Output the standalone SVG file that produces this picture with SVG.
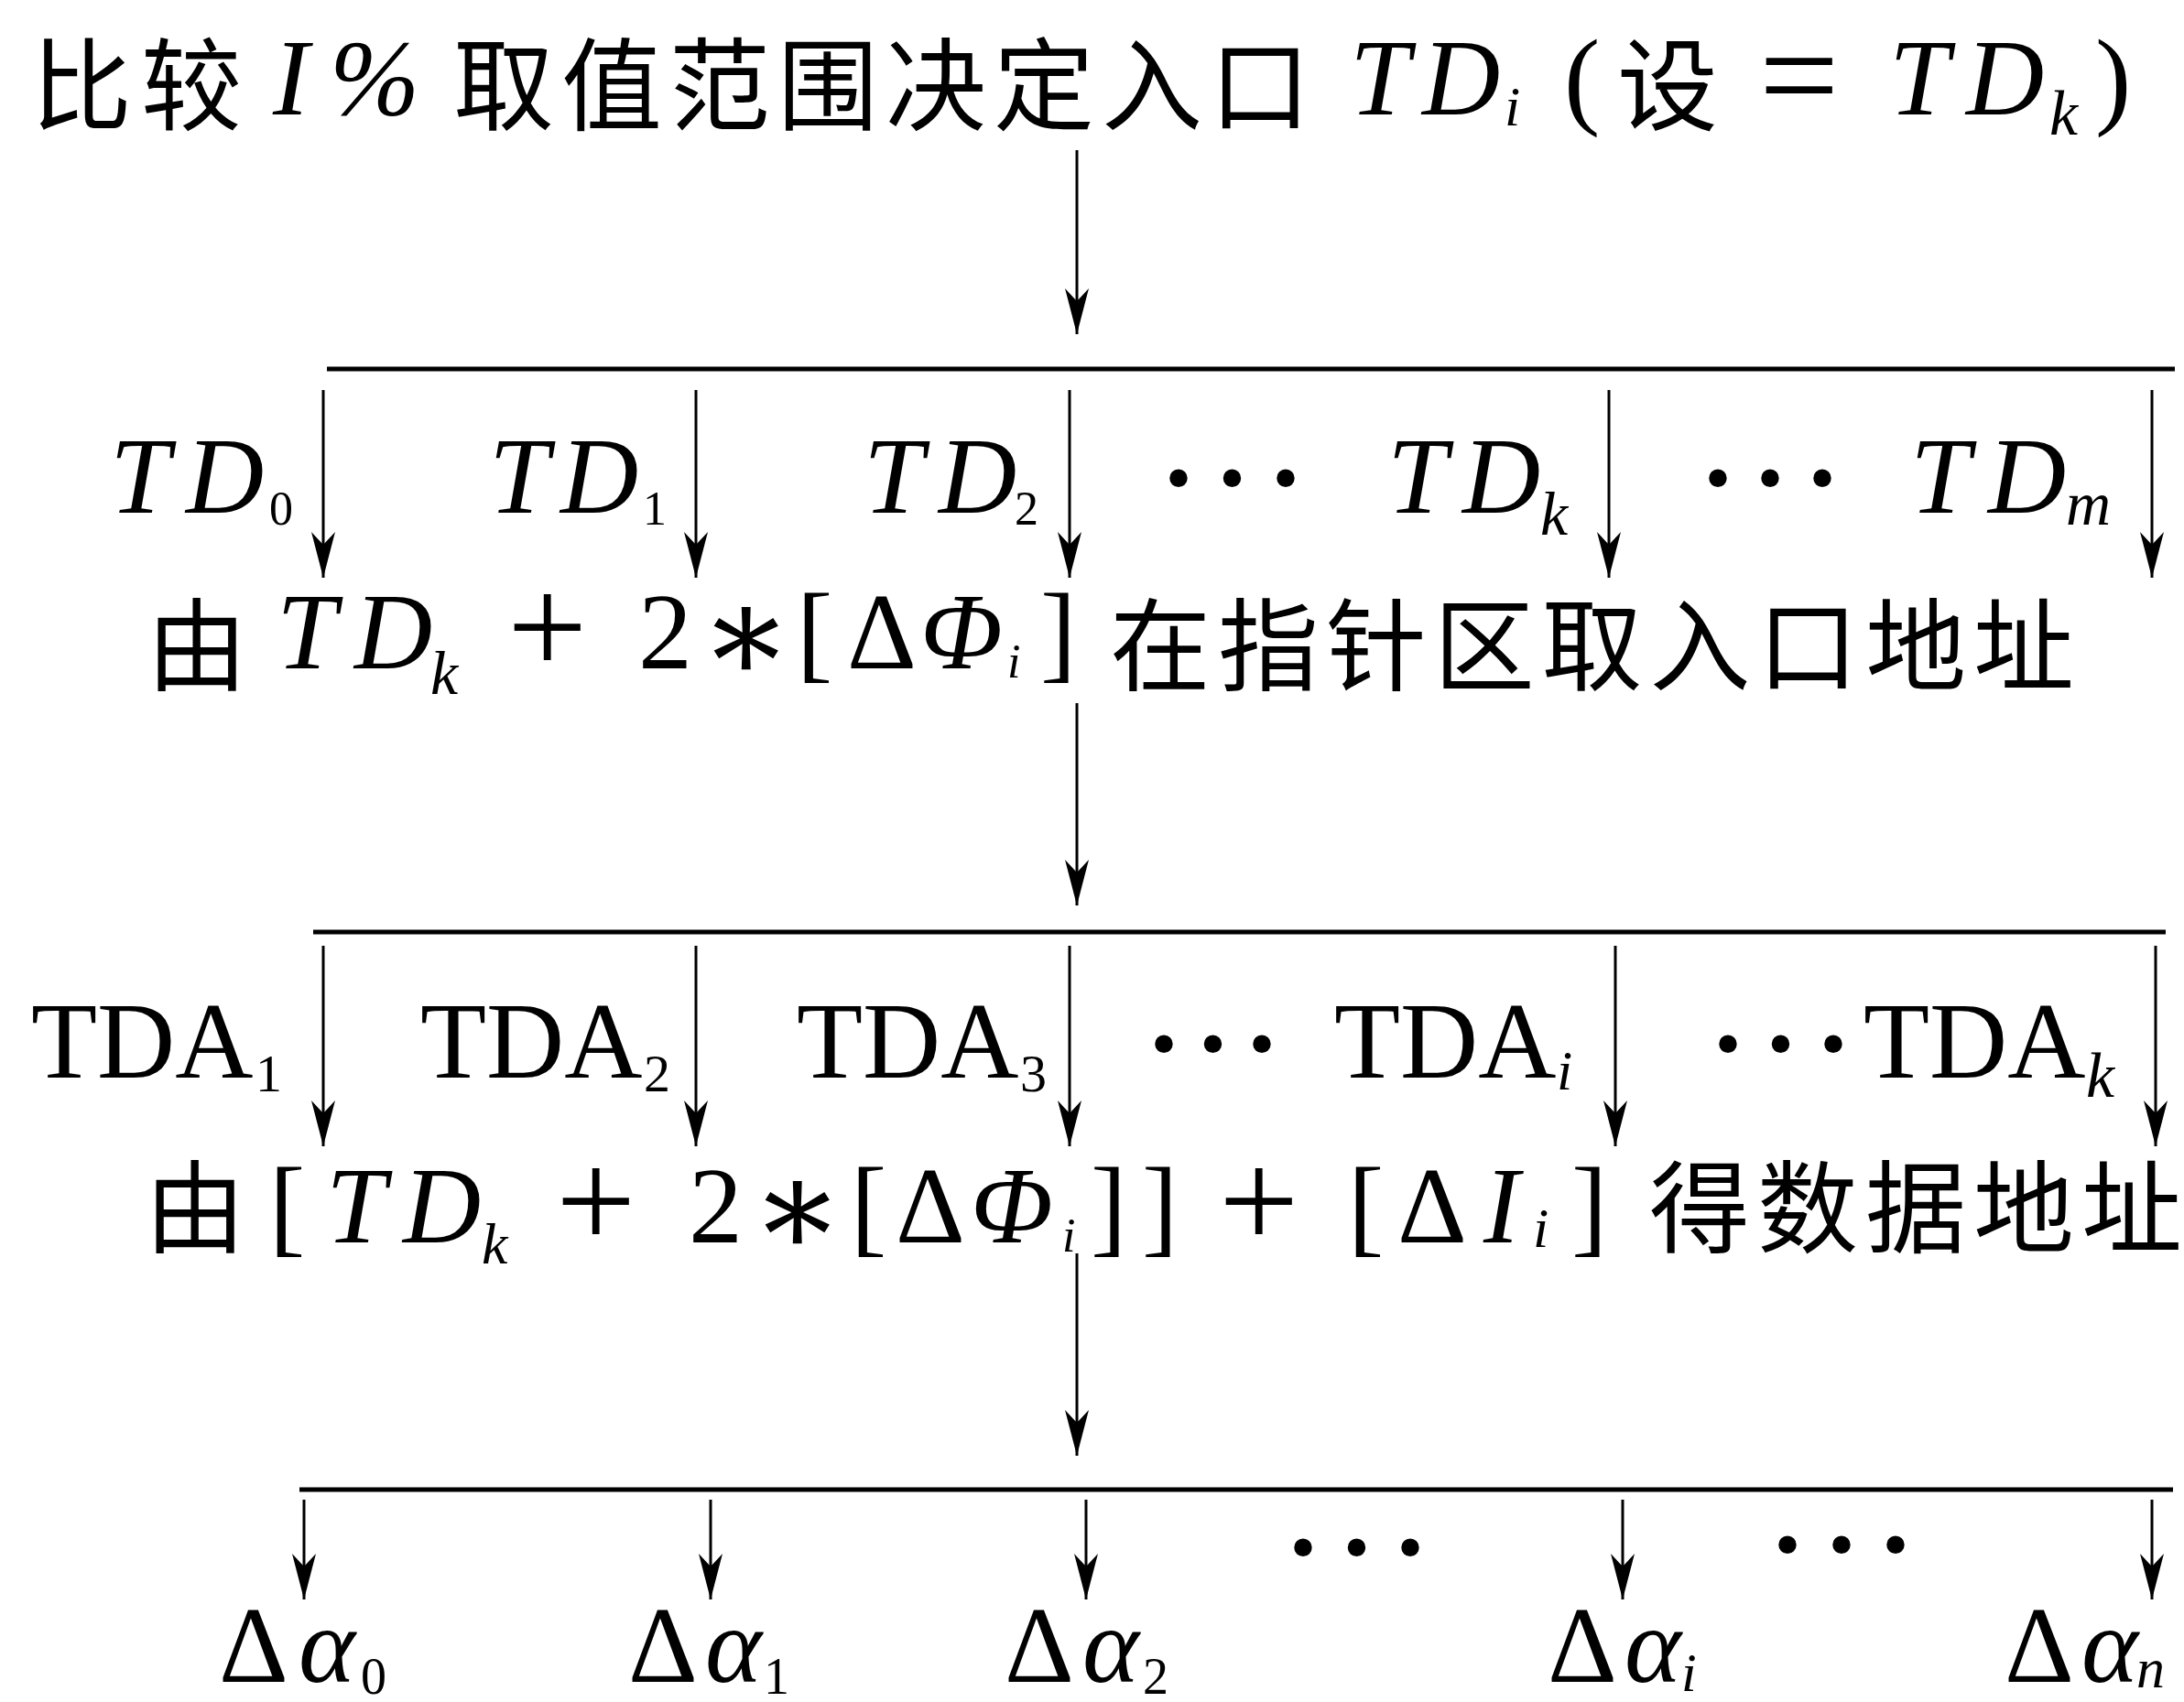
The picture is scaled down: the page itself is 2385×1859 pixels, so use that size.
<svg xmlns="http://www.w3.org/2000/svg" width="2385" height="1859" viewBox="0 0 2385 1859">
<defs>
<style>
.cjk{font-family:"Noto Sans CJK SC","Noto Sans CJK TC",sans-serif;font-size:110px;fill:#000}
.mi{font-family:"Liberation Serif",serif;font-style:italic;font-size:118px;fill:#000}
.rm{font-family:"Liberation Serif",serif;font-size:118px;fill:#000}
.op{font-family:"Liberation Serif",serif;font-size:155px;fill:#000}
.ast{font-family:"DejaVu Serif",serif;font-size:150px;fill:#000}
.it{font-style:italic}
.up{font-style:normal}
.dots{font-family:"Liberation Serif",serif;font-size:120px;fill:#000;font-weight:bold}
.conn line{stroke:#000;stroke-width:3;fill:none}
.conn line.bar{stroke-width:5}
.conn line.arr{marker-end:url(#ah)}
</style>
<marker id="ah" markerUnits="userSpaceOnUse" viewBox="-52 -16 54 32" markerWidth="54" markerHeight="32" refX="0" refY="0" orient="auto">
<path d="M0,0 L-50,-13 L-36,0 L-50,13 Z" fill="#000"/>
</marker>
</defs>
<rect width="2385" height="1859" fill="#fff"/>

<g id="title">
<text class="cjk" x="34" y="134" textLength="230" lengthAdjust="spacing">比较</text>
<text class="mi" y="125"><tspan x="298">I</tspan><tspan x="360">%</tspan></text>
<text class="cjk" x="495" y="134" textLength="936" lengthAdjust="spacing">取值范围决定入口</text>
<text class="mi" y="125"><tspan x="1474">T</tspan><tspan x="1553">D</tspan><tspan x="1643" y="137" font-size="62">i</tspan></text>
<text class="rm" x="1708" y="125">(</text>
<text class="cjk" x="1766" y="134">设</text>
<text class="op" x="1921" y="134" font-size="170">=</text>
<text class="mi" y="125"><tspan x="2063">T</tspan><tspan x="2147">D</tspan><tspan x="2238" y="147" font-size="70">k</tspan></text>
<text class="rm" x="2288" y="125">)</text>
</g>

<g id="connectors" class="conn">
<line class="arr" x1="1176" y1="164" x2="1176" y2="365"/>
<line class="bar" x1="357" y1="403" x2="2375" y2="403"/>
<line class="arr" x1="353" y1="426" x2="353" y2="631"/>
<line class="arr" x1="760" y1="426" x2="760" y2="631"/>
<line class="arr" x1="1168" y1="426" x2="1168" y2="631"/>
<line class="arr" x1="1757" y1="426" x2="1757" y2="631"/>
<line class="arr" x1="2350" y1="426" x2="2350" y2="631"/>
<line class="arr" x1="1176" y1="768" x2="1176" y2="989"/>
<line class="bar" x1="342" y1="1018" x2="2365" y2="1018"/>
<line class="arr" x1="353" y1="1033" x2="353" y2="1252"/>
<line class="arr" x1="760" y1="1033" x2="760" y2="1252"/>
<line class="arr" x1="1168" y1="1033" x2="1168" y2="1252"/>
<line class="arr" x1="1764" y1="1033" x2="1764" y2="1252"/>
<line class="arr" x1="2354" y1="1033" x2="2354" y2="1252"/>
<line class="arr" x1="1176" y1="1369" x2="1176" y2="1590"/>
<line class="bar" x1="327" y1="1627" x2="2373" y2="1627"/>
<line class="arr" x1="332" y1="1638" x2="332" y2="1747"/>
<line class="arr" x1="776" y1="1638" x2="776" y2="1747"/>
<line class="arr" x1="1186" y1="1638" x2="1186" y2="1747"/>
<line class="arr" x1="1772" y1="1638" x2="1772" y2="1747"/>
<line class="arr" x1="2350" y1="1638" x2="2350" y2="1747"/>
</g>

<g id="row1-labels">
<text class="mi" y="560"><tspan x="120">T</tspan><tspan x="203">D</tspan><tspan class="up" x="294" y="573" font-size="52">0</tspan></text>
<text class="mi" y="560"><tspan x="534">T</tspan><tspan x="612">D</tspan><tspan class="up" x="702" y="573" font-size="52">1</tspan></text>
<text class="mi" y="560"><tspan x="943">T</tspan><tspan x="1025">D</tspan><tspan class="up" x="1108" y="573" font-size="52">2</tspan></text>
<text class="dots" x="1267" y="562" textLength="157" lengthAdjust="spacing">···</text>
<text class="mi" y="560"><tspan x="1515">T</tspan><tspan x="1597">D</tspan><tspan x="1682" y="584" font-size="68">k</tspan></text>
<text class="dots" x="1856" y="562" textLength="154" lengthAdjust="spacing">···</text>
<text class="mi" y="560"><tspan x="2086">T</tspan><tspan x="2171">D</tspan><tspan x="2256" y="573" font-size="68">m</tspan></text>
</g>

<g id="step2">
<text class="cjk" x="160" y="746">由</text>
<text class="mi" y="730"><tspan x="302">T</tspan><tspan x="387">D</tspan><tspan x="470" y="758" font-size="68">k</tspan></text>
<text class="op" x="554" y="737">+</text>
<text class="rm" x="697" y="730">2</text>
<text class="ast" x="764" y="744">∗</text>
<text class="rm" x="870" y="730">[</text>
<text class="rm" y="730"><tspan x="925">Δ</tspan><tspan class="it" x="1005">Φ</tspan><tspan class="it" x="1100" y="740" font-size="52">i</tspan></text>
<text class="rm" x="1136" y="730">]</text>
<text class="cjk" x="1212" y="746" textLength="1053" lengthAdjust="spacing">在指针区取入口地址</text>
</g>

<g id="row2-labels">
<text class="rm" x="34" y="1177">TDA<tspan x="279" y="1192" font-size="58">1</tspan></text>
<text class="rm" x="459" y="1177">TDA<tspan x="703" y="1192" font-size="58">2</tspan></text>
<text class="rm" x="870" y="1177">TDA<tspan x="1114" y="1192" font-size="58">3</tspan></text>
<text class="dots" x="1251" y="1180" textLength="147" lengthAdjust="spacing">···</text>
<text class="rm" x="1457" y="1177">TDA<tspan class="it" x="1700" y="1190" font-size="62">i</tspan></text>
<text class="dots" x="1867" y="1180" textLength="155" lengthAdjust="spacing">···</text>
<text class="rm" x="2035" y="1177">TDA<tspan class="it" x="2278" y="1198" font-size="70">k</tspan></text>
</g>

<g id="step3">
<text class="cjk" x="158" y="1360">由</text>
<text class="rm" x="294" y="1357">[</text>
<text class="mi" y="1357"><tspan x="356">T</tspan><tspan x="440">D</tspan><tspan x="526" y="1380" font-size="64">k</tspan></text>
<text class="op" x="607" y="1364">+</text>
<text class="rm" x="752" y="1357">2</text>
<text class="ast" x="820" y="1371">∗</text>
<text class="rm" x="929" y="1357">[</text>
<text class="rm" y="1357"><tspan x="978">Δ</tspan><tspan class="it" x="1060">Φ</tspan><tspan class="it" x="1160" y="1367" font-size="52">i</tspan></text>
<text class="rm" y="1357"><tspan x="1191">]</tspan><tspan x="1247">]</tspan></text>
<text class="op" x="1331" y="1364">+</text>
<text class="rm" x="1472" y="1357">[</text>
<text class="rm" y="1357"><tspan x="1526">Δ</tspan><tspan class="it" x="1620">I</tspan><tspan class="it" x="1674" y="1362" font-size="62">i</tspan></text>
<text class="rm" x="1716" y="1357">]</text>
<text class="cjk" x="1801" y="1360" textLength="582" lengthAdjust="spacing">得数据地址</text>
</g>

<g id="row3-labels">
<text class="rm" y="1837"><tspan x="239">Δ</tspan><tspan class="it" x="326">α</tspan><tspan x="394" y="1850" font-size="56">0</tspan></text>
<text class="rm" y="1837"><tspan x="686">Δ</tspan><tspan class="it" x="770">α</tspan><tspan x="834" y="1850" font-size="56">1</tspan></text>
<text class="rm" y="1837"><tspan x="1097">Δ</tspan><tspan class="it" x="1182">α</tspan><tspan x="1248" y="1850" font-size="56">2</tspan></text>
<text class="dots" x="1403" y="1730" textLength="157" lengthAdjust="spacing">···</text>
<text class="rm" y="1837"><tspan x="1690">Δ</tspan><tspan class="it" x="1774">α</tspan><tspan class="it" x="1836" y="1847" font-size="60">i</tspan></text>
<text class="dots" x="1932" y="1727" textLength="158" lengthAdjust="spacing">···</text>
<text class="rm" y="1837"><tspan x="2189">Δ</tspan><tspan class="it" x="2273">α</tspan><tspan class="it" x="2333" y="1843" font-size="62">n</tspan></text>
</g>
</svg>
